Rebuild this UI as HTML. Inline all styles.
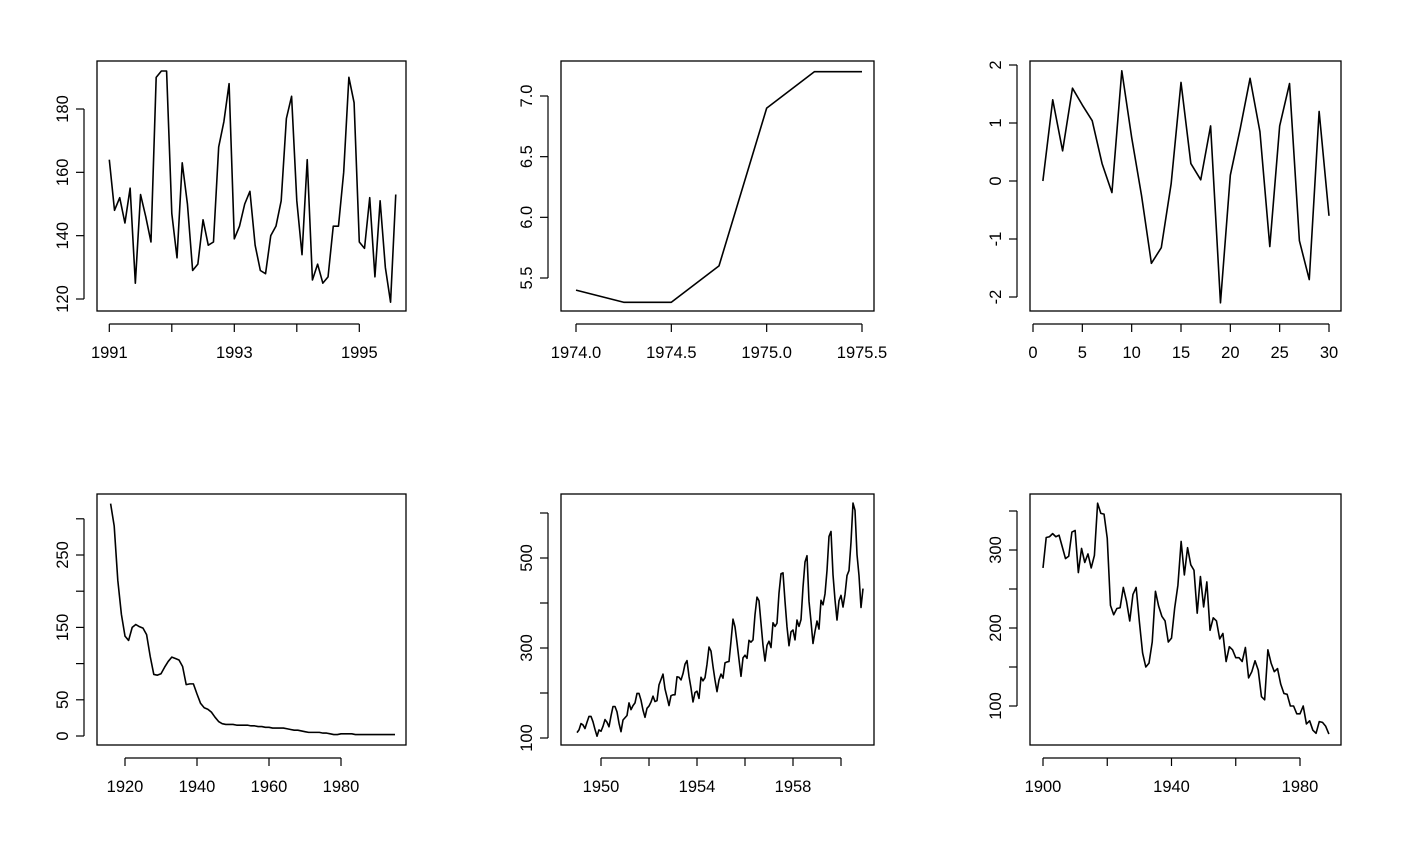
<!DOCTYPE html>
<html><head><meta charset="utf-8"><style>
body{margin:0;background:#fff}
svg{display:block}
text{font-family:"Liberation Sans",Arial,sans-serif;font-size:16.5px;fill:#000}
</style></head><body>
<svg id="c" width="1414" height="844" xmlns="http://www.w3.org/2000/svg"></svg>
<script>
// ---- data ----
const p1Start = 1991, p1Freq = 12;
const p1Values = [164,148,152,144,155,125,153,146,138,190,192,192,147,133,163,150,129,131,145,137,138,168,176,188,139,143,150,154,137,129,128,140,143,151,177,184,151,134,164,126,131,125,127,143,143,160,190,182,138,136,152,127,151,130,119,153];
const p2Start = 1974, p2Freq = 4;
const p2Values = [5.4,5.3,5.3,5.6,6.9,7.2,7.2];
const p3Start = 1, p3Freq = 1;
const p3Values = [0,1.4,0.52,1.6,1.31,1.04,0.3,-0.2,1.9,0.75,-0.25,-1.42,-1.15,-0.05,1.7,0.3,0.02,0.95,-2.1,0.1,0.9,1.77,0.85,-1.13,0.95,1.68,-1.03,-1.7,1.2,-0.6];
const p4Start = 1916, p4Freq = 1;
const p4Values = [321,290,215,168,138,132,150,154,151,149,140,110,85,84,86,95,103,109,107,105,96,71,72,72,58,45,39,37,33,26,20,17,16,16,16,15,15,15,15,14,14,13,13,12,12,11,11,11,11,10,9,8,8,7,6,5,5,5,5,4,4,3,2,2,3,3,3,3,2,2,2,2,2,2,2,2,2,2,2,2];
const p5Start = 1949, p5Freq = 12;
const p5Values = [112,118,132,129,121,135,148,148,136,119,104,118,115,126,141,135,125,149,170,170,158,133,114,140,145,150,178,163,172,178,199,199,184,162,146,166,171,180,193,181,183,218,230,242,209,191,172,194,196,196,236,235,229,243,264,272,237,211,180,201,204,188,235,227,234,264,302,293,259,229,203,229,242,233,267,269,270,315,364,347,312,274,237,278,284,277,317,313,318,374,413,405,355,306,271,306,315,301,356,348,355,422,465,467,404,347,305,336,340,318,362,348,363,435,491,505,404,359,310,337,360,342,406,396,420,472,548,559,463,407,362,405,417,391,419,461,472,535,622,606,508,461,390,432];
const p6Start = 1900, p6Freq = 1;
const p6Values = [277,316,317,321,317,319,304,289,292,323,325,271,302,284,295,277,293,360,347,346,315,229,217,225,226,252,234,209,243,252,208,168,150,155,182,247,228,215,209,182,187,226,255,311,268,303,281,274,219,266,227,259,197,213,209,186,193,157,176,172,162,162,157,175,136,144,158,146,112,108,172,155,144,148,128,116,115,100,100,90,90,100,77,81,69,65,80,79,74,64];
const p1XTicks=[1991,1992,1993,1994,1995], p1XLabels=["1991","","1993","","1995"];
const p1YTicks=[120,140,160,180], p1YLabels=["120","140","160","180"];
const p2XTicks=[1974,1974.5,1975,1975.5], p2XLabels=["1974.0","1974.5","1975.0","1975.5"];
const p2YTicks=[5.5,6,6.5,7], p2YLabels=["5.5","6.0","6.5","7.0"];
const p3XTicks=[0,5,10,15,20,25,30], p3XLabels=["0","5","10","15","20","25","30"];
const p3YTicks=[-2,-1,0,1,2], p3YLabels=["-2","-1","0","1","2"];
const p4XTicks=[1920,1940,1960,1980], p4XLabels=["1920","1940","1960","1980"];
const p4YTicks=[0,50,100,150,200,250,300], p4YLabels=["0","50","","150","","250",""];
const p5XTicks=[1950,1952,1954,1956,1958,1960], p5XLabels=["1950","","1954","","1958",""];
const p5YTicks=[100,200,300,400,500,600], p5YLabels=["100","","300","","500",""];
const p6XTicks=[1900,1920,1940,1960,1980], p6XLabels=["1900","","1940","","1980"];
const p6YTicks=[100,150,200,250,300,350], p6YLabels=["100","","200","","300",""];

const NS="http://www.w3.org/2000/svg", svg=document.getElementById('c');
function mk(tag,attrs,parent){const e=document.createElementNS(NS,tag);for(const k in attrs)e.setAttribute(k,attrs[k]);(parent||svg).appendChild(e);return e;}
function lin(d0,d1,r0,r1){return v=>r0+(v-d0)*(r1-r0)/(d1-d0);}

function panel(id,box,xs,ys,start,freq,vals,xt,xl,yt,yl){
  const g=mk('g',{});
  
  
  const fr=mk('rect',{x:box[0],y:box[1],width:box[2]-box[0],height:box[3]-box[1],fill:'none',stroke:'#000','stroke-width':1.3},g);
  
  
  const pts=vals.map((v,i)=>xs(start+i/freq).toFixed(2)+','+ys(v).toFixed(2)).join(' ');
  const ln=mk('polyline',{points:pts,fill:'none',stroke:'#000','stroke-width':1.6,'stroke-linejoin':'round'},g);
  
  
  const xb=box[3];
  const xa=mk('line',{x1:xs(xt[0]),x2:xs(xt[xt.length-1]),y1:xb+13,y2:xb+13,stroke:'#000','stroke-width':1.2},g);
  
  
  xt.forEach((t,i)=>{
    const x=xs(t);
    const tk=mk('line',{x1:x,x2:x,y1:xb+13,y2:xb+21,stroke:'#000','stroke-width':1.2},g);
    
    
    if(xl[i]){const tx=mk('text',{x:x,y:xb+47,'text-anchor':'middle'},g);tx.textContent=xl[i];
      
      }
  });
  const xl0=box[0]-13;
  const ya=mk('line',{x1:xl0,x2:xl0,y1:ys(yt[0]),y2:ys(yt[yt.length-1]),stroke:'#000','stroke-width':1.2},g);
  
  
  yt.forEach((t,i)=>{
    const y=ys(t);
    const tk=mk('line',{x1:xl0-8,x2:xl0,y1:y,y2:y,stroke:'#000','stroke-width':1.2},g);
    
    
    if(yl[i]){const tx=mk('text',{x:xl0-16,y:y,'text-anchor':'middle',transform:'rotate(-90 '+(xl0-16)+' '+y+')'},g);tx.textContent=yl[i];
      
      }
  });
}
panel('panel-1',[97,61,406,311],lin(1991,1995,109.3,359.3),lin(120,180,299,109),p1Start,p1Freq,p1Values,p1XTicks,p1XLabels,p1YTicks,p1YLabels);
panel('panel-2',[561,61,874,311],lin(1974,1975.5,576,862),lin(5.5,7,278,96),p2Start,p2Freq,p2Values,p2XTicks,p2XLabels,p2YTicks,p2YLabels);
panel('panel-3',[1030,61,1341,311],lin(0,30,1033,1329),lin(-2,2,297,65),p3Start,p3Freq,p3Values,p3XTicks,p3XLabels,p3YTicks,p3YLabels);
panel('panel-4',[97,494,406,745],lin(1920,1980,125,341),lin(0,250,736,555),p4Start,p4Freq,p4Values,p4XTicks,p4XLabels,p4YTicks,p4YLabels);
panel('panel-5',[561,494,874,745],lin(1950,1958,601,793),lin(100,500,738,558),p5Start,p5Freq,p5Values,p5XTicks,p5XLabels,p5YTicks,p5YLabels);
panel('panel-6',[1030,494,1341,745],lin(1900,1980,1043,1300),lin(100,300,706,550),p6Start,p6Freq,p6Values,p6XTicks,p6XLabels,p6YTicks,p6YLabels);
</script>
</body></html>
